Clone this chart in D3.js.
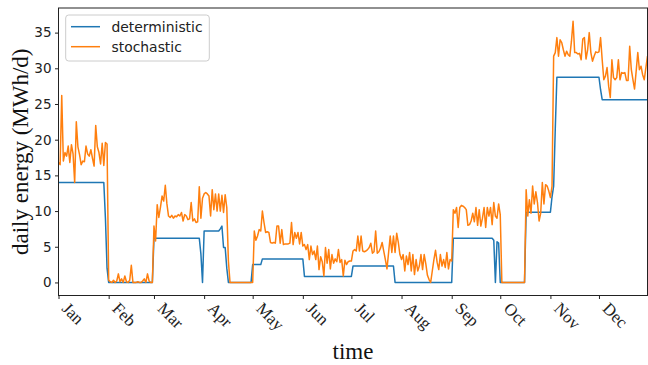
<!DOCTYPE html>
<meta charset="utf-8">
<style>
  body { margin: 0; background: #fff; }
  .axis text { font-family: "DejaVu Sans", sans-serif; font-size: 13.5px; fill: #222; }
  .axis line { stroke: #222; }
  .xaxis text { font-family: "Liberation Serif", serif; font-size: 17px; }
  .label { font-family: "Liberation Serif", serif; font-size: 23px; fill: #111; }
  .legend text { font-family: "DejaVu Sans", sans-serif; font-size: 13.9px; fill: #222; }
</style>
<svg width="648" height="365"></svg>
<script src="https://cdnjs.cloudflare.com/ajax/libs/d3/7.8.5/d3.min.js"></script>
<script>
// month ticks (day of year where each month begins)
var months = ["Jan","Feb","Mar","Apr","May","Jun","Jul","Aug","Sep","Oct","Nov","Dec"];
var monthStart = [0,31,59,90,120,151,181,212,243,273,304,334];
var yTicks = [0,5,10,15,20,25,30,35];

// stochastic daily energy, one array per month (MWh/d)
var stochJan = [16.8,16.5,26.2,17.0,18.2,17.7,19.1,16.8,19.3,18.0,14.0,22.5,19.0,17.9,16.5,17.0,16.9,19.1,18.0,17.7,18.6,17.4,16.3,22.0,19.0,18.2,16.6,19.5,16.4,19.6,19.4];
var stochFeb = [0.3,0.1,0.0,0.3,0.0,0.2,1.2,0.1,0.5,0.0,0.9,0.1,0.0,0.3,2.4,0.0,0.0,0.0,0.1,0.0,0.0,0.2,0.5,0.0,1.2,0.2,0.0,0.0];
var stochMar = [7.9,5.8,10.9,9.1,10.5,12.1,11.4,13.6,11.0,9.3,9.1,9.4,9.0,9.3,9.2,9.5,9.3,9.8,8.6,9.5,9.3,8.8,8.9,11.2,8.6,8.9,8.4,8.5,13.4,9.0,11.8];
var stochApr = [12.4,12.6,12.4,12.1,9.3,13.0,10.2,12.4,10.0,12.4,10.0,12.2,9.8,12.3,10.5,3.0,0,0,0,0,0,0,0,0,0,0,0,0,0,0];
var stochMay = [0.0,7.2,5.9,6.5,7.4,7.2,10.0,8.4,7.0,7.1,7.0,5.6,5.5,5.6,5.5,7.9,7.9,5.5,7.4,5.3,5.4,5.4,5.4,5.5,8.4,5.3,7.0,6.2,7.0,5.4,7.0];
var stochJun = [5.1,5.3,4.6,5.3,3.2,5.1,3.9,4.4,3.2,5.1,1.8,3.6,2.9,0.9,4.9,2.7,4.6,1.9,3.9,2.7,3.3,2.9,4.6,2.8,3.2,0.9,3.1,2.5,2.9,3.0];
var stochJul = [3.0,4.4,4.6,4.4,6.5,4.4,6.5,4.4,4.3,4.4,4.6,4.9,5.5,4.1,4.3,7.2,4.1,4.3,4.8,5.6,4.4,3.2,1.9,4.2,6.5,4.2,6.5,4.2,6.9,5.6,3.9];
var stochAug = [3.2,3.9,1.6,3.7,2.5,4.2,1.6,3.9,1.1,3.2,1.6,2.3,3.9,1.8,3.9,2.6,1.0,0.4,0.0,1.6,3.2,4.5,2.8,1.8,3.9,2.3,3.2,2.1,4.2,1.9,3.2];
var stochSep = [3.0,10.2,9.7,10.5,7.7,10.5,10.8,10.7,10.5,10.2,8.0,8.1,8.6,9.7,8.5,10.5,8.0,10.2,7.9,9.0,10.5,7.7,10.5,9.3,10.5,8.1,11.2,9.3,9.0,11.0];
var stochOct = [9.5,0,0,0,0,0,0,0,0,0,0,0,0,0,0,0,13.0,9.3,11.6,9.7,13.5,11.0,12.7,11.2,8.6,9.7,14.0,11.0,13.7,13.5,12.8];
var stochNov = [11.9,13.5,31.7,32.2,34.3,31.7,34.0,33.6,32.6,31.7,32.4,31.9,31.7,33.8,36.6,32.2,32.2,32.0,32.1,31.2,34.1,34.3,31.3,32.6,35.0,32.2,31.0,31.7,32.3,32.2];
var stochDec = [32.3,34.3,31.2,28.4,28.9,30.1,27.5,25.9,31.2,28.7,28.4,28.7,31.2,28.4,29.4,29.3,29.4,28.3,28.3,33.1,29.8,28.4,27.1,29.6,32.2,29.8,30.3,29.1,28.4,30.1,31.7];

// deterministic: level held from each start day until the next one
var detStart = [0,29,30,31,59,88,89,90,100,101,102,104,105,120,126,152,182,208,244,269,270,271,272,273,289,305,306,307,308,335,336];
var detLevel = [14.0,9.0,2.0,0,6.2,4.0,0,7.2,7.5,7.9,4.9,2.0,0,2.5,3.3,0.84,2.3,0,6.2,5.9,0,5.7,5.5,0,9.85,12.0,13.5,21.5,28.75,27.0,25.6];

var stochastic = [].concat(stochJan, stochFeb, stochMar, stochApr, stochMay, stochJun,
                           stochJul, stochAug, stochSep, stochOct, stochNov, stochDec);
var deterministic = stochastic.map(function(v, day) {
  var k = d3.bisectRight(detStart, day) - 1;
  return detLevel[k];
});

var svg = d3.select("svg"),
    plotL = 58.5, plotR = 647.5, plotT = 8, plotB = 295.5;

var x = d3.scaleLinear().domain([0, stochastic.length - 1]).range([plotL, plotR]);
var y = d3.scaleLinear().domain([-1.83, 38.45]).range([plotB, plotT]);

svg.append("defs").append("clipPath").attr("id", "plotclip")
  .append("rect").attr("x", plotL).attr("y", plotT)
  .attr("width", plotR - plotL).attr("height", plotB - plotT);

var line = d3.line()
    .x(function(d, i) { return x(i); })
    .y(function(d) { return y(d); });

var plot = svg.append("g").attr("clip-path", "url(#plotclip)");
plot.append("path").datum(deterministic)
    .attr("d", line).attr("fill", "none")
    .attr("stroke", "#1f77b4").attr("stroke-width", 1.5).attr("stroke-linejoin", "round");
plot.append("path").datum(stochastic)
    .attr("d", line).attr("fill", "none")
    .attr("stroke", "#ff7f0e").attr("stroke-width", 1.5).attr("stroke-linejoin", "round");

// y axis
var yAxis = svg.append("g").attr("class", "axis")
    .attr("transform", "translate(" + plotL + ",0)")
    .call(d3.axisLeft(y).tickValues(yTicks).tickSize(3.5).tickPadding(3.5));
yAxis.select(".domain").remove();

// x axis with rotated month names
var xAxis = svg.append("g").attr("class", "axis xaxis")
    .attr("transform", "translate(0," + plotB + ")")
    .call(d3.axisBottom(x).tickValues(monthStart)
      .tickFormat(function(d, i) { return months[i]; }).tickSize(3.5));
xAxis.select(".domain").remove();
xAxis.selectAll("text")
    .attr("x", 0).attr("y", 0).attr("dy", 0)
    .attr("text-anchor", "start")
    .attr("transform", "translate(2,14) rotate(45)");

// frame
svg.append("rect")
    .attr("x", plotL).attr("y", plotT)
    .attr("width", plotR - plotL).attr("height", plotB - plotT)
    .attr("fill", "none").attr("stroke", "#222").attr("stroke-width", 1);

// axis labels
svg.append("text").attr("class", "label")
    .attr("text-anchor", "middle")
    .attr("transform", "translate(28," + (plotT + plotB) / 2 + ") rotate(-90)")
    .text("daily energy (MWh/d)");
svg.append("text").attr("class", "label")
    .attr("text-anchor", "middle")
    .attr("x", (plotL + plotR) / 2).attr("y", 359)
    .text("time");

// legend
var legend = svg.append("g").attr("class", "legend");
legend.append("rect")
    .attr("x", 65.7).attr("y", 15).attr("width", 143.6).attr("height", 46)
    .attr("rx", 3).attr("fill", "#fff").attr("fill-opacity", 0.8)
    .attr("stroke", "#cccccc");
var entries = [["deterministic", "#1f77b4"], ["stochastic", "#ff7f0e"]];
entries.forEach(function(e, i) {
  var ly = 26.7 + i * 20;
  legend.append("line")
      .attr("x1", 71).attr("x2", 100).attr("y1", ly).attr("y2", ly)
      .attr("stroke", e[1]).attr("stroke-width", 1.5);
  legend.append("text").attr("x", 111.5).attr("y", ly).attr("dy", "0.36em").text(e[0]);
});
</script>
